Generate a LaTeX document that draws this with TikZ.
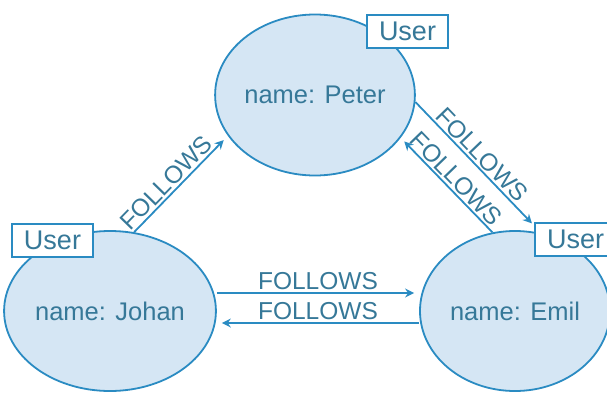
\documentclass[tikz,border=0pt]{standalone}
\usepackage{fontspec}
\setmainfont{Liberation Sans}
\usetikzlibrary{arrows.meta,positioning,shapes.geometric}
\definecolor{graphline}{HTML}{2A8BC2}
\definecolor{graphfill}{HTML}{D5E6F4}
\definecolor{graphtext}{HTML}{367898}
\tikzset{
  usernode/.style={
    ellipse, draw=graphline, fill=graphfill, line width=1.8pt,
    minimum width=#1, minimum height=161pt,
    text=graphtext, font=\fontsize{25.5}{30}\selectfont,
    inner sep=0pt
  },
  usernode/.default=196pt,
  labelbox/.style={
    rectangle, draw=graphline, fill=white, line width=1.8pt,
    minimum width=81pt, minimum height=33pt,
    text=graphtext, font=\fontsize{27}{30}\selectfont,
    inner sep=0pt
  },
  relarrow/.style={
    -{Stealth[length=9pt,width=9pt,inset=3pt]}, draw=graphline, line width=1.8pt
  },
  rellabel/.style={text=graphtext, font=\fontsize{24.5}{28}\selectfont, inner sep=2pt},
}

\begin{document}
\begin{tikzpicture}[x=1pt, y=1pt]
  \useasboundingbox (0,0) rectangle (607,392);
  \node[usernode] (peter) at (315,297) {name: Peter};
  \node[usernode, minimum height=160pt] (johan) at (110,81) {name: Johan};
  \node[usernode=190pt, minimum height=160pt] (emil) at (515,81) {name: Emil};
  \node[labelbox] (peteruser) at (407.5,360.5) {User};
  \node[labelbox] (johanuser) at (52.5,151.5) {User};
  \node[labelbox] (emiluser) at (575.5,152.5) {User};
  \draw[relarrow] (johan.73) -- ([shift={(-5pt,-3pt)}]peter.206) node[pos=0.45, above, sloped, rellabel] {FOLLOWS};
  \draw[relarrow] (peter.-4) -- ([yshift=8pt]emil.78) node[midway, above, sloped, rellabel] {FOLLOWS};
  \draw[relarrow] (emil.106) -- ([shift={(4pt,-3pt)}]peter.-27) node[midway, above, sloped, rellabel] {FOLLOWS};
  \draw[relarrow, shorten >=5pt] ([yshift=18pt]johan.east) -- ([yshift=18pt]emil.west) node[midway, above, rellabel] {FOLLOWS};
  \draw[relarrow, shorten >=5pt] ([yshift=-12pt]emil.west) -- ([yshift=-12pt]johan.east) node[midway, above, rellabel] {FOLLOWS};
\end{tikzpicture}
\end{document}
